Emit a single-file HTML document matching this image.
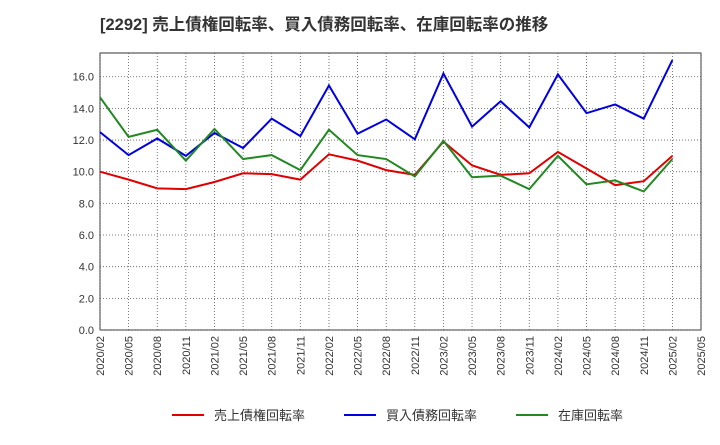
<!DOCTYPE html>
<html><head><meta charset="utf-8"><style>
body{margin:0;background:#fff;font-family:"Liberation Sans","Noto Sans CJK JP",sans-serif}
</style></head><body>
<svg id="c" width="720" height="440" xmlns="http://www.w3.org/2000/svg">
<text x="100" y="30" font-size="16.5" font-weight="bold" fill="#333">[2292]  売上債権回転率、買入債務回転率、在庫回転率の推移</text>
</svg>
<script>
const cats=["2020/02","2020/05","2020/08","2020/11","2021/02","2021/05","2021/08","2021/11","2022/02","2022/05","2022/08","2022/11","2023/02","2023/05","2023/08","2023/11","2024/02","2024/05","2024/08","2024/11","2025/02","2025/05"];
const red=[10.0,9.5,8.95,8.9,9.35,9.9,9.85,9.5,11.1,10.7,10.1,9.8,11.9,10.4,9.8,9.9,11.25,10.2,9.15,9.4,11.0];
const blue=[12.5,11.05,12.1,11.0,12.45,11.5,13.35,12.25,15.45,12.4,13.3,12.05,16.2,12.85,14.45,12.8,16.15,13.7,14.25,13.35,17.05];
const green=[14.7,12.2,12.65,10.7,12.7,10.8,11.05,10.1,12.65,11.05,10.8,9.7,11.95,9.65,9.75,8.9,11.0,9.2,9.45,8.75,10.8];
const yTicks=[0,2,4,6,8,10,12,14,16];
const seriesNames=["売上債権回転率","買入債務回転率","在庫回転率"];
const colors=["#e00000","#0000e0","#228822"];
const L=100,R=701,T=53,B=330,yMax=17.5;
const x=i=>L+(R-L)*i/(cats.length-1);
const y=v=>B-(B-T)*v/yMax;
const svg=document.getElementById('c');
const NS="http://www.w3.org/2000/svg";
function mk(t,a){const e=document.createElementNS(NS,t);for(const k in a)e.setAttribute(k,a[k]);svg.appendChild(e);return e;}
let e=mk('rect',{x:L,y:T,width:R-L,height:B-T,fill:'#fff',stroke:'#333'});


yTicks.forEach(v=>{
 let g=mk('line',{x1:L,x2:R,y1:y(v),y2:y(v),stroke:'#555','stroke-dasharray':'1,2','stroke-width':0.8});
 
 
 let t=mk('text',{x:L-6,y:y(v)+4,'text-anchor':'end','font-size':11,fill:'#333'});
 t.textContent=v.toFixed(1);
 
 
});
cats.forEach((c,i)=>{
 let g=mk('line',{x1:x(i),x2:x(i),y1:T,y2:B,stroke:'#555','stroke-dasharray':'1,2','stroke-width':0.8});
 
 
 let t=mk('text',{x:0,y:0,'text-anchor':'end','font-size':11,fill:'#333',transform:`translate(${x(i)+4},${B+6}) rotate(-90)`});
 t.textContent=c;
 
 
});
[red,blue,green].forEach((s,k)=>{
 let p=mk('polyline',{points:s.map((v,i)=>x(i)+','+y(v)).join(' '),fill:'none',stroke:colors[k],'stroke-width':2});
 
 
});
const lx=[172,344,516];
seriesNames.forEach((n,k)=>{
 let l=mk('line',{x1:lx[k],x2:lx[k]+32,y1:415,y2:415,stroke:colors[k],'stroke-width':2});
 
 
 let t=mk('text',{x:lx[k]+42,y:420,'font-size':13,fill:'#333'});
 t.textContent=n;
 
 
});
</script>
</body></html>
